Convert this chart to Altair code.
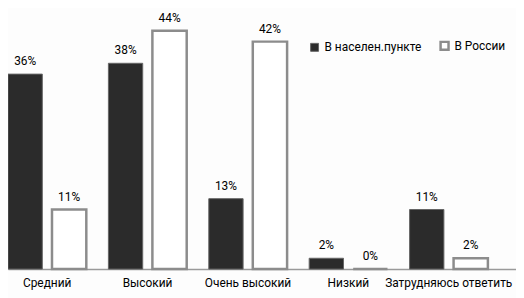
import altair as alt
import pandas as pd

categories = ["Средний", "Высокий", "Очень высокий", "Низкий", "Затрудняюсь ответить"]
series_names = ["В населен.пункте", "В России"]
local_values = [36, 38, 13, 2, 11]
russia_values = [11, 44, 42, 0, 2]

rows = []
for c, a, b in zip(categories, local_values, russia_values):
    rows.append({"cat": c, "series": series_names[0], "value": a, "label": f"{a}%"})
    rows.append({"cat": c, "series": series_names[1], "value": b, "label": f"{b}%"})
df = pd.DataFrame(rows)

FONT = "Roboto"
FS = 12

x = alt.X("cat:N", sort=categories, title=None,
          scale=alt.Scale(paddingInner=0.22, paddingOuter=0.14, align=0),
          axis=alt.Axis(labelAngle=0, ticks=False, domainColor="#9a9a9a", domainWidth=1.5,
                        labelFontSize=FS, labelColor="#000", labelPadding=9, labelFont=FONT,
                        labelBound=False, labelOverlap=False))
xo = alt.XOffset("series:N", sort=series_names,
                 scale=alt.Scale(paddingInner=0.22, paddingOuter=0))
y = alt.Y("value:Q", scale=alt.Scale(domain=[0, 48]), axis=None)

leg = alt.Legend(title=None, orient="none", legendX=303, legendY=31,
                 direction="horizontal", symbolType="square", symbolSize=64,
                 symbolStrokeWidth=2, labelFontSize=FS, labelFont=FONT,
                 labelColor="#000", columnPadding=14, labelOffset=4)

bars = alt.Chart(df).mark_bar().encode(
    x=x, xOffset=xo, y=y,
    fill=alt.Fill("series:N", sort=series_names,
                  scale=alt.Scale(domain=series_names, range=["#2b2b2b", "#ffffff"]),
                  legend=leg),
    stroke=alt.Stroke("series:N", sort=series_names,
                      scale=alt.Scale(domain=series_names, range=["#666666", "#8c8c8c"]),
                      legend=leg),
    strokeWidth=alt.StrokeWidth("series:N", sort=series_names,
                                scale=alt.Scale(domain=series_names, range=[1, 2.5]), legend=None),
)

texts = alt.Chart(df).mark_text(baseline="bottom", dy=-6, fontSize=FS, font=FONT, color="#000").encode(
    x=x, xOffset=xo, y=y, text="label:N"
)

chart = alt.layer(bars, texts).properties(
    width=512, height=262,
    autosize=alt.AutoSizeParams(type="none"),
    padding={"left": 0, "top": 0, "right": 0, "bottom": 28},
    background="#fdfdfd",
).configure_view(stroke=None)

chart.save("out.html", embed_options={"renderer": "svg", "actions": False})
